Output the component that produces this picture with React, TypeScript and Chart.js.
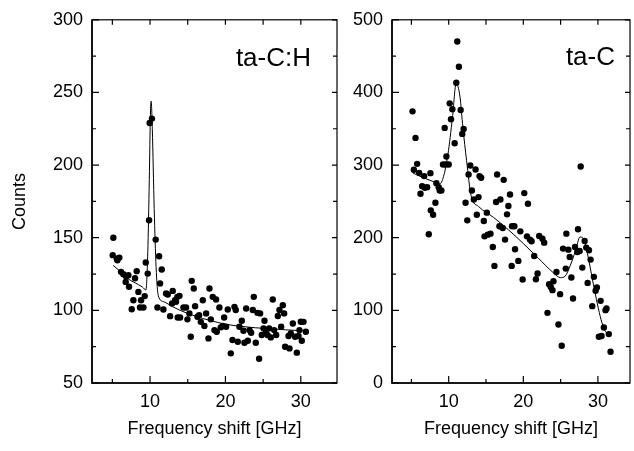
import React, { useEffect, useRef } from "react";
import { Chart, registerables } from "chart.js";

Chart.register(...registerables);

const FONT = "'Liberation Sans', Arial, Helvetica, sans-serif";

// ---------- ta-C:H (left panel) ----------
const tacHDotX = [5.05, 5.13, 5.58, 5.67, 5.93, 6.15, 6.46, 6.77, 6.82, 7.13, 7.21, 7.57, 7.79, 8.01, 8.23, 8.45, 8.67, 8.81, 9.12, 9.29, 9.43, 9.69, 9.87, 9.95, 10.25, 10.75, 10.98, 11.2, 11.33, 11.55, 11.77, 12.13, 12.35, 12.66, 12.92, 13.01, 13.32, 13.45, 13.63, 13.67, 13.9, 13.98, 14.43, 14.78, 14.96, 15.22, 15.4, 15.53, 15.8, 15.98, 16.29, 16.51, 16.73, 17.0, 17.21, 17.44, 17.75, 17.88, 18.06, 18.32, 18.54, 18.76, 18.85, 19.2, 19.38, 19.65, 19.83, 20.09, 20.31, 20.71, 20.93, 21.2, 21.37, 21.64, 21.86, 22.17, 22.39, 22.52, 22.75, 22.97, 23.19, 23.41, 23.63, 23.76, 24.03, 24.25, 24.47, 24.6, 24.82, 25.05, 25.18, 25.35, 25.58, 25.8, 26.02, 26.28, 26.46, 26.73, 26.95, 27.17, 27.39, 27.61, 27.79, 27.92, 28.37, 28.5, 28.67, 28.94, 29.25, 29.47, 29.69, 29.82, 30.0, 30.13, 30.36, 30.67];
const tacHDotY = [138, 150, 135.6, 134.5, 136.3, 126.5, 124.9, 119.6, 123.5, 124.2, 116.2, 100.8, 107, 122.1, 127, 112.7, 102, 107, 102, 109.8, 132.9, 125.3, 162, 229, 232, 148.7, 102, 137.2, 118.5, 128.1, 100.6, 111.6, 110.9, 96, 104.7, 113.4, 107, 105.9, 109.3, 95.1, 110, 95.1, 102, 102, 93.8, 97.9, 81.8, 120.3, 115, 102.9, 95.6, 96.7, 92.1, 107, 89.2, 97.9, 80.7, 115, 93.8, 109.3, 86.4, 107.5, 85.3, 102, 88.3, 89.2, 95.1, 88.7, 100.6, 70.4, 79.6, 102.4, 100.2, 78.4, 88.7, 92.8, 86, 77.7, 101.3, 79.1, 86.4, 84.6, 100.2, 109.3, 77.7, 98.3, 66.7, 97.9, 83, 87.6, 92.8, 84.6, 83, 87.6, 81.4, 107.5, 86.4, 83, 96.1, 100.2, 88.7, 103.6, 97.9, 75, 82.3, 73.8, 84.1, 91, 81.8, 70.9, 82.3, 86.4, 92.2, 79.1, 92.1, 85.3];
const tacHFitX = [5.1, 6, 7, 8, 9, 9.45, 9.7, 9.9, 10.05, 10.15, 10.3, 10.55, 10.8, 11.1, 11.8, 13, 14, 16, 18, 20, 22, 24, 26, 28, 30, 30.7];
const tacHFitY = [131, 127, 122, 119, 116, 114, 140, 190, 235, 244, 225, 170, 130, 110, 106, 102.5, 100, 96, 93, 90.5, 89, 88, 87.3, 86.6, 86, 85.8];
const tacHYTicks = [50, 100, 150, 200, 250, 300];
const tacHYMinor = [75, 125, 175, 225, 275];

// ---------- ta-C (right panel) ----------
const tacDotX = [5.15, 5.33, 5.55, 5.77, 6.04, 6.22, 6.44, 6.71, 6.8, 7.11, 7.33, 7.55, 7.6, 7.91, 8.22, 8.35, 8.66, 8.8, 9.02, 9.24, 9.46, 9.6, 9.69, 10.0, 10.13, 10.31, 10.49, 10.8, 11.02, 11.15, 11.37, 11.6, 11.82, 12.0, 12.26, 12.49, 12.66, 12.89, 13.11, 13.37, 13.6, 13.77, 14.0, 14.13, 14.35, 14.71, 14.8, 15.11, 15.24, 15.6, 15.91, 16.13, 16.35, 16.49, 16.8, 16.93, 17.24, 17.37, 17.55, 17.82, 18.0, 18.22, 18.44, 18.49, 18.8, 18.89, 19.33, 19.6, 19.91, 20.13, 20.49, 20.62, 20.89, 21.11, 21.46, 21.69, 21.91, 22.13, 22.57, 22.8, 23.24, 23.46, 23.69, 23.91, 24.04, 24.44, 24.71, 24.93, 25.15, 25.33, 25.69, 25.77, 26.04, 26.22, 26.44, 26.66, 26.93, 27.24, 27.33, 27.55, 27.69, 27.91, 28.22, 28.44, 28.62, 28.8, 29.02, 29.24, 29.46, 29.69, 29.86, 30.13, 30.36, 30.49, 30.8, 31.02, 31.15, 31.46, 31.69];
const tacDotY = [374, 293.5, 337.4, 301.7, 289.3, 260.5, 271, 284.8, 268.7, 269.6, 204.7, 288.9, 237.7, 231.7, 248.2, 275.1, 269.6, 265.1, 265.1, 300.8, 351.2, 300.8, 311.8, 300.8, 385, 363, 376.8, 330.1, 413.4, 470.2, 435.4, 375.9, 342.9, 349.8, 248.2, 223.9, 287.1, 299.4, 265.1, 252.7, 293.9, 231.7, 255.9, 284.8, 282.5, 223, 201.9, 234.5, 204.2, 205.6, 187.3, 161.2, 249.1, 287.1, 215.7, 252.7, 213.4, 279.7, 197.4, 232.2, 243.6, 259.6, 161.2, 215.7, 215.7, 184.1, 168.1, 208.8, 142.4, 261.4, 201.9, 246.8, 197.4, 195.1, 174.9, 142.9, 150.7, 202.4, 198.7, 193.2, 96.6, 136, 132.3, 127.8, 140.1, 152.9, 80.6, 122.3, 51.3, 185, 157.5, 205.6, 183.6, 173.6, 145.2, 116.3, 187.3, 180.4, 211.6, 181.8, 298.1, 158.9, 195.5, 186.4, 137.8, 182.7, 169.9, 105.8, 146.1, 126.9, 131.4, 63.7, 113.1, 64.6, 76.5, 100.3, 102.6, 67.3, 43.1];
const tacFitX = [5.2, 6.5, 8, 8.8, 9.3, 9.9, 10.5, 11.0, 11.5, 11.9, 12.4, 13.0, 14, 16, 18, 20, 22, 24, 25, 25.6, 26.3, 27, 27.6, 28.1, 28.6, 29.2, 29.8, 30.3, 30.8, 31.2];
const tacFitY = [289, 283, 277, 274, 284, 315, 365, 412, 395, 352, 306, 258, 243, 228, 211, 192, 172, 152, 145, 147, 162, 182, 201, 198, 178, 146, 115, 92, 75, 68];
const tacYTicks = [0, 100, 200, 300, 400, 500];
const tacYMinor = [50, 150, 250, 350, 450];

// shared x axis
const xMajorTicks = [10, 20, 30];
const xMinorTicks = [5, 15, 25];
const xTopTicks = [5, 10, 15, 20, 25, 30];

function framePlugin(yMajor: number[], yMinor: number[], label: string, labelDx: number, labelDy: number) {
  return {
    id: "frame",
    afterDatasetsDraw(chart: any) {
      const { ctx, chartArea } = chart;
      const { left, right, top, bottom } = chartArea;
      const xs = chart.scales.x;
      const ys = chart.scales.y;
      ctx.save();
      ctx.strokeStyle = "#000";
      ctx.lineWidth = 1.2;
      ctx.strokeRect(left, top, right - left, bottom - top);
      ctx.lineWidth = 1.6;
      ctx.beginPath();
      ctx.moveTo(left, top);
      ctx.lineTo(left, bottom);
      ctx.lineTo(right, bottom);
      ctx.stroke();
      ctx.lineWidth = 1.2;
      ctx.beginPath();
      for (const v of xMajorTicks) {
        const p = xs.getPixelForValue(v);
        ctx.moveTo(p, bottom);
        ctx.lineTo(p, bottom - 7);
      }
      for (const v of xMinorTicks) {
        const p = xs.getPixelForValue(v);
        ctx.moveTo(p, bottom);
        ctx.lineTo(p, bottom - 4);
      }
      for (const v of xTopTicks) {
        const p = xs.getPixelForValue(v);
        ctx.moveTo(p, top);
        ctx.lineTo(p, top + 5);
      }
      for (const v of yMajor) {
        const p = ys.getPixelForValue(v);
        ctx.moveTo(left, p);
        ctx.lineTo(left + 7, p);
        ctx.moveTo(right, p);
        ctx.lineTo(right - 5, p);
      }
      for (const v of yMinor) {
        const p = ys.getPixelForValue(v);
        ctx.moveTo(left, p);
        ctx.lineTo(left + 4, p);
        ctx.moveTo(right, p);
        ctx.lineTo(right - 4, p);
      }
      ctx.stroke();
      ctx.fillStyle = "#000";
      ctx.font = `26px ${FONT}`;
      ctx.textAlign = "right";
      ctx.textBaseline = "alphabetic";
      ctx.fillText(label, right - labelDx, top + labelDy);
      ctx.restore();
    },
  };
}

function makeConfig(opts: {
  dotX: number[]; dotY: number[]; fitX: number[]; fitY: number[];
  yMin: number; yMax: number; yTicks: number[]; yMinor: number[];
  xMin: number; xMax: number; yWidth: number; padRight: number;
  showYTitle: boolean; label: string; labelDx: number; labelDy: number;
}) {
  const font = { family: FONT, size: 18 };
  return {
    type: "scatter" as const,
    data: {
      datasets: [
        {
          data: opts.fitX.map((x, i) => ({ x, y: opts.fitY[i] })),
          showLine: true,
          borderColor: "#000",
          borderWidth: 1,
          pointRadius: 0,
          cubicInterpolationMode: "monotone",
          fill: false,
        },
        {
          data: opts.dotX.map((x, i) => ({ x, y: opts.dotY[i] })),
          showLine: false,
          pointRadius: 3.2,
          pointBackgroundColor: "#000",
          pointBorderColor: "#000",
          pointBorderWidth: 0,
        },
      ],
    },
    options: {
      responsive: false,
      animation: false,
      events: [],
      layout: { padding: { top: 19, right: opts.padRight, bottom: 0, left: 0 } },
      plugins: { legend: { display: false }, tooltip: { enabled: false }, title: { display: false } },
      scales: {
        x: {
          type: "linear",
          min: opts.xMin,
          max: opts.xMax,
          afterBuildTicks: (s: any) => { s.ticks = xMajorTicks.map((v) => ({ value: v })); },
          afterFit: (s: any) => { s.height = 68; },
          grid: { display: false, drawTicks: false },
          border: { display: false },
          ticks: { color: "#000", font, padding: 8, maxRotation: 0, autoSkip: false },
          title: { display: true, text: "Frequency shift [GHz]", color: "#000", font, padding: { top: 0, bottom: 11 } },
        },
        y: {
          type: "linear",
          min: opts.yMin,
          max: opts.yMax,
          afterBuildTicks: (s: any) => { s.ticks = opts.yTicks.map((v) => ({ value: v })); },
          afterFit: (s: any) => { s.width = opts.yWidth; },
          grid: { display: false, drawTicks: false },
          border: { display: false },
          ticks: { color: "#000", font, padding: 9, autoSkip: false },
          title: { display: opts.showYTitle, text: "Counts", color: "#000", font, padding: { top: 9, bottom: 0 } },
        },
      },
    },
    plugins: [framePlugin(opts.yTicks, opts.yMinor, opts.label, opts.labelDx, opts.labelDy)],
  };
}

export default function App() {
  const leftRef = useRef<HTMLCanvasElement>(null);
  const rightRef = useRef<HTMLCanvasElement>(null);

  useEffect(() => {
    const left = new Chart(leftRef.current as HTMLCanvasElement, makeConfig({
      dotX: tacHDotX, dotY: tacHDotY, fitX: tacHFitX, fitY: tacHFitY,
      yMin: 50, yMax: 300, yTicks: tacHYTicks, yMinor: tacHYMinor,
      xMin: 2.3, xMax: 34.8, yWidth: 92, padRight: 8,
      showYTitle: true, label: "ta-C:H", labelDx: 26, labelDy: 46,
    }) as any);
    const right = new Chart(rightRef.current as HTMLCanvasElement, makeConfig({
      dotX: tacDotX, dotY: tacDotY, fitX: tacFitX, fitY: tacFitY,
      yMin: 0, yMax: 500, yTicks: tacYTicks, yMinor: tacYMinor,
      xMin: 2.4, xMax: 34.3, yWidth: 47, padRight: 3,
      showYTitle: false, label: "ta-C", labelDx: 15, labelDy: 45,
    }) as any);
    return () => {
      left.destroy();
      right.destroy();
    };
  }, []);

  return (
    <div style={{ position: "fixed", left: 0, top: 0, width: 634, height: 451, background: "#fff" }}>
      <canvas ref={leftRef} width={345} height={451} style={{ position: "absolute", left: 0, top: 0 }} />
      <canvas ref={rightRef} width={289} height={451} style={{ position: "absolute", left: 345, top: 0 }} />
    </div>
  );
}
